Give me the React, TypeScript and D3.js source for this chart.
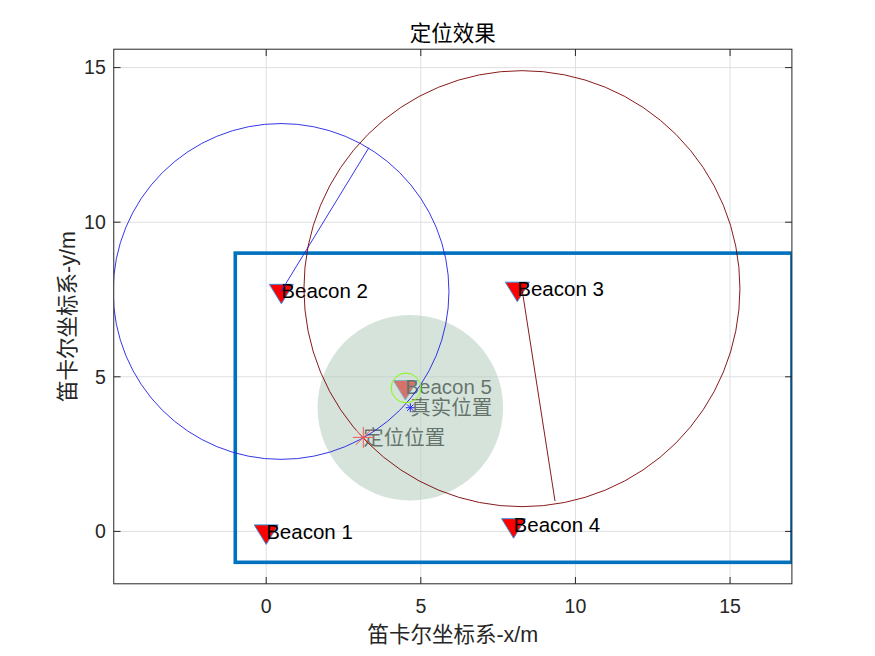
import React from "react";
import * as d3 from "d3";

const beaconNames = ["Beacon 1", "Beacon 2", "Beacon 3", "Beacon 4", "Beacon 5"];
const beaconX = [0, 0.49, 8.12, 8.0, 4.5];
const beaconY = [0, 7.78, 7.85, 0.2, 4.67];

const rangeCenterX = [0.48, 8.27];
const rangeCenterY = [7.76, 7.85];
const rangeRadius = [5.43, 7.05];
const rangeEndX = [3.32, 9.34];
const rangeEndY = [12.41, 0.98];
const rangeColors = ["#1f1fe6", "#7a0000"];

const trueX = 4.66;
const trueY = 4.0;
const errRadius = 3.0;
const estX = 3.14;
const estY = 3.04;
const nearX = 4.52;
const nearY = 4.64;
const nearR = 0.48;

const areaX = [-1, 17];
const areaY = [-1, 9];

const xTicks = [0, 5, 10, 15];
const yTicks = [0, 5, 10, 15];

const W = 875, H = 656;
const L = 113.75, R = 791.9, T = 49.2, B = 583.8;

export default function App() {
  const x = d3.scaleLinear().domain([-4.93, 17]).range([L, R]);
  const y = d3.scaleLinear().domain([-1.695, 15.595]).range([B, T]);
  const latin = "'Liberation Sans', Arial, 'Noto Sans CJK SC', sans-serif";
  const cjk = "'Liberation Sans', 'Noto Sans CJK SC', sans-serif";
  const tick = 6.8;
  const axisColor = "#262626";
  const gridColor = "#dfdfdf";
  const fs = 20.5;

  const tri = (cx: number, cy: number) => {
    const w = 12, h = 19.5;
    return `M${cx - w},${cy - h / 3}L${cx + w},${cy - h / 3}L${cx},${cy + (2 * h) / 3}Z`;
  };
  const star = (cx: number, cy: number, s: number) => {
    const d = s * 0.7071;
    return `M${cx - s},${cy}L${cx + s},${cy}M${cx},${cy - s}L${cx},${cy + s}M${cx - d},${cy - d}L${cx + d},${cy + d}M${cx - d},${cy + d}L${cx + d},${cy - d}`;
  };

  return (
    <div style={{ position: "fixed", left: 0, top: 0, background: "#fff" }}>
      <svg width={W} height={H} style={{ display: "block" }}>
        <rect x={0} y={0} width={W} height={H} fill="#fff" />
        <defs>
          <clipPath id="plot">
            <rect x={L} y={T} width={R - L} height={B - T} />
          </clipPath>
        </defs>
        {xTicks.map((t) => (
          <line key={"gx" + t} x1={x(t)} x2={x(t)} y1={T} y2={B} stroke={gridColor} strokeWidth={1} />
        ))}
        {yTicks.map((t) => (
          <line key={"gy" + t} x1={L} x2={R} y1={y(t)} y2={y(t)} stroke={gridColor} strokeWidth={1} />
        ))}
        <g clipPath="url(#plot)">
          <rect
            x={x(areaX[0])}
            y={y(areaY[1])}
            width={x(areaX[1]) - x(areaX[0])}
            height={y(areaY[0]) - y(areaY[1])}
            fill="none"
            stroke="#0072BD"
            strokeWidth={3.6}
          />
          {beaconNames.map((n, i) => (
            <path key={"b" + i} d={tri(x(beaconX[i]), y(beaconY[i]))} fill="#ff0000" stroke="#3a8fd8" strokeWidth={1} />
          ))}
          {beaconNames.map((n, i) => (
            <text
              key={"bt" + i}
              x={x(beaconX[i])}
              y={y(beaconY[i])}
              dy="0.35em"
              fontFamily={latin}
              fontSize={fs}
              fill="#000"
            >
              {n}
            </text>
          ))}
          <text x={x(estX)} y={y(estY)} dy="0.35em" fontFamily={cjk} fontSize={fs} fill="#000">
            定位位置
          </text>
          <text x={x(trueX)} y={y(trueY)} dy="0.35em" fontFamily={cjk} fontSize={fs} fill="#000">
            真实位置
          </text>
          <circle cx={x(trueX)} cy={y(trueY)} r={x(trueX + errRadius) - x(trueX)} fill="rgb(180,205,190)" fillOpacity={0.56} />
          {rangeCenterX.map((cx, i) => (
            <g key={"rc" + i}>
              <circle
                cx={x(cx)}
                cy={y(rangeCenterY[i])}
                r={x(cx + rangeRadius[i]) - x(cx)}
                fill="none"
                stroke={rangeColors[i]}
                strokeWidth={0.9}
              />
              <line
                x1={x(cx)}
                y1={y(rangeCenterY[i])}
                x2={x(rangeEndX[i])}
                y2={y(rangeEndY[i])}
                stroke={rangeColors[i]}
                strokeWidth={0.9}
              />
            </g>
          ))}
          <path d={star(x(estX), y(estY), 10.5)} stroke="#f05a5a" strokeWidth={1} fill="none" />
          <path d={star(x(trueX), y(trueY), 4.5)} stroke="#2a2aff" strokeWidth={1} fill="none" />
          <circle cx={x(nearX)} cy={y(nearY)} r={x(nearX + nearR) - x(nearX)} fill="none" stroke="#7fff00" strokeWidth={1} />
        </g>
        <rect x={L} y={T} width={R - L} height={B - T} fill="none" stroke={axisColor} strokeWidth={1} />
        {xTicks.map((t) => (
          <g key={"xt" + t}>
            <line x1={x(t)} x2={x(t)} y1={B} y2={B - tick} stroke={axisColor} />
            <line x1={x(t)} x2={x(t)} y1={T} y2={T + tick} stroke={axisColor} />
            <text x={x(t)} y={B + 22} dy="0.35em" textAnchor="middle" fontFamily={latin} fontSize={19.5} fill={axisColor}>
              {t}
            </text>
          </g>
        ))}
        {yTicks.map((t) => (
          <g key={"yt" + t}>
            <line x1={L} x2={L + tick} y1={y(t)} y2={y(t)} stroke={axisColor} />
            <line x1={R} x2={R - tick} y1={y(t)} y2={y(t)} stroke={axisColor} />
            <text x={L - 8} y={y(t)} dy="0.35em" textAnchor="end" fontFamily={latin} fontSize={19.5} fill={axisColor}>
              {t}
            </text>
          </g>
        ))}
        <text x={(L + R) / 2} y={33} dy="0.35em" textAnchor="middle" fontFamily={cjk} fontSize={21.5} fill="#000">
          定位效果
        </text>
        <text x={(L + R) / 2} y={634} dy="0.35em" textAnchor="middle" fontFamily={cjk} fontSize={21.5} fill={axisColor}>
          笛卡尔坐标系-x/m
        </text>
        <text
          transform={`translate(67,${(T + B) / 2}) rotate(-90)`}
          dy="0.35em"
          textAnchor="middle"
          fontFamily={cjk}
          fontSize={21.5}
          fill={axisColor}
        >
          笛卡尔坐标系-y/m
        </text>
      </svg>
    </div>
  );
}
